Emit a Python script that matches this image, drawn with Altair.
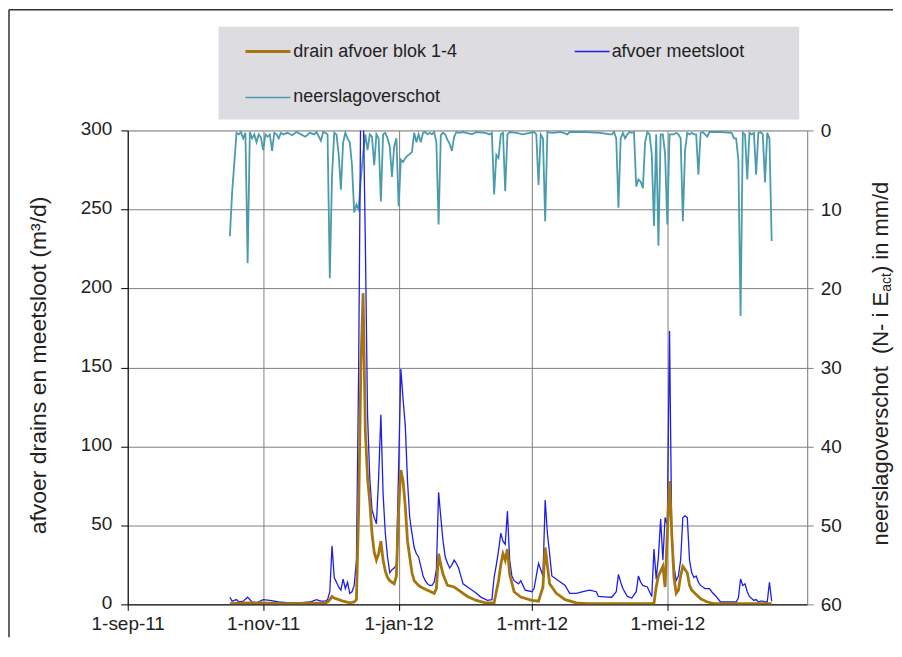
import altair as alt
import pandas as pd

# ---------------- data ----------------
sloot_dates = [
    "2011-10-17", "2011-10-18", "2011-10-20", "2011-10-21", "2011-10-23", "2011-10-25", "2011-10-27", "2011-10-29",
    "2011-11-01", "2011-11-04", "2011-11-08", "2011-11-13", "2011-11-17", "2011-11-22", "2011-11-25", "2011-11-27",
    "2011-11-29", "2011-11-30",
    "2011-12-01", "2011-12-02", "2011-12-03", "2011-12-05", "2011-12-06", "2011-12-07", "2011-12-08", "2011-12-09",
    "2011-12-10", "2011-12-11", "2011-12-12", "2011-12-13", "2011-12-14", "2011-12-15", "2011-12-16", "2011-12-17",
    "2011-12-18", "2011-12-19", "2011-12-20", "2011-12-21", "2011-12-22", "2011-12-23", "2011-12-24", "2011-12-25",
    "2011-12-26", "2011-12-27", "2011-12-28", "2011-12-29", "2011-12-30", "2011-12-31",
    "2012-01-01", "2012-01-02", "2012-01-03", "2012-01-04", "2012-01-05", "2012-01-06", "2012-01-07", "2012-01-08",
    "2012-01-09", "2012-01-10", "2012-01-11", "2012-01-12", "2012-01-13", "2012-01-14", "2012-01-15", "2012-01-16",
    "2012-01-17", "2012-01-18", "2012-01-19", "2012-01-20", "2012-01-21", "2012-01-22", "2012-01-23", "2012-01-24",
    "2012-01-25", "2012-01-26", "2012-01-27", "2012-01-28", "2012-01-29", "2012-01-30",
    "2012-02-02", "2012-02-05", "2012-02-07", "2012-02-10", "2012-02-12", "2012-02-13", "2012-02-14", "2012-02-15",
    "2012-02-16", "2012-02-17", "2012-02-18", "2012-02-19", "2012-02-20", "2012-02-21", "2012-02-22", "2012-02-24",
    "2012-02-25", "2012-02-27",
    "2012-03-01", "2012-03-02", "2012-03-04", "2012-03-06", "2012-03-07", "2012-03-08", "2012-03-09", "2012-03-10",
    "2012-03-13", "2012-03-16", "2012-03-18", "2012-03-21", "2012-03-24", "2012-03-27", "2012-03-30", "2012-03-31",
    "2012-04-04", "2012-04-06", "2012-04-08", "2012-04-09", "2012-04-10", "2012-04-11", "2012-04-13", "2012-04-15",
    "2012-04-17", "2012-04-18", "2012-04-19", "2012-04-20", "2012-04-22", "2012-04-24", "2012-04-25", "2012-04-26",
    "2012-04-27", "2012-04-28", "2012-04-29", "2012-04-30",
    "2012-05-01", "2012-05-02", "2012-05-03", "2012-05-04", "2012-05-05", "2012-05-06", "2012-05-07", "2012-05-08",
    "2012-05-09", "2012-05-10", "2012-05-11", "2012-05-12", "2012-05-13", "2012-05-14", "2012-05-15", "2012-05-16",
    "2012-05-18", "2012-05-20", "2012-05-21", "2012-05-23", "2012-05-25", "2012-05-29",
    "2012-06-01", "2012-06-02", "2012-06-03", "2012-06-04", "2012-06-05", "2012-06-06", "2012-06-07", "2012-06-09",
    "2012-06-10", "2012-06-11", "2012-06-12", "2012-06-13", "2012-06-14", "2012-06-15", "2012-06-16", "2012-06-17",
]
sloot_vals = [
    4.5, 2, 3, 1.5, 2, 4.5, 1.5, 1,
    3, 2.5, 1.5, 1, 1, 1.5, 3, 2,
    2, 3,
    8, 37, 17, 11, 9, 16, 10, 14,
    7, 8, 12, 28, 150, 330, 320, 230,
    120, 80, 60, 55, 51, 80, 120, 70,
    45, 30, 20, 22, 23, 25,
    87, 149, 130, 113, 78, 55, 45, 36,
    32, 30, 24, 18, 15, 13, 12, 12,
    14, 22, 71, 55, 40, 30, 26, 23,
    25, 28, 26, 23, 18, 13,
    10, 7, 4.6, 2.5, 3, 17, 25, 34,
    45, 40, 38, 59, 28, 18, 15, 13,
    15, 9,
    8, 10, 26, 18, 66, 45, 32, 18,
    15, 12, 7, 7, 8, 9, 8, 5,
    4.6, 4.5, 8, 19, 14, 10, 5, 4,
    8, 18, 14, 12, 11, 5, 35, 16,
    30, 54, 28, 55,
    50, 173, 45, 24, 15, 18, 28, 55,
    56, 55, 28, 20, 17, 18, 14, 12,
    10, 10, 8, 5, 1.5, 1.5,
    1.5, 4, 16, 12, 13, 8, 5, 2.5,
    3, 1.5, 2, 2, 1.5, 1.5, 14, 2,
]

drain_dates = [
    "2011-10-17", "2011-10-25", "2011-11-01", "2011-11-08", "2011-11-15", "2011-11-22", "2011-11-29", "2011-11-30",
    "2011-12-01", "2011-12-02", "2011-12-03", "2011-12-05", "2011-12-07", "2011-12-10", "2011-12-12", "2011-12-13",
    "2011-12-14", "2011-12-15", "2011-12-16", "2011-12-17", "2011-12-18", "2011-12-19", "2011-12-20", "2011-12-21",
    "2011-12-22", "2011-12-23", "2011-12-24", "2011-12-25", "2011-12-26", "2011-12-27", "2011-12-28", "2011-12-29",
    "2011-12-30", "2011-12-31",
    "2012-01-01", "2012-01-02", "2012-01-03", "2012-01-04", "2012-01-05", "2012-01-06", "2012-01-07", "2012-01-08",
    "2012-01-10", "2012-01-11", "2012-01-14", "2012-01-17", "2012-01-18", "2012-01-19", "2012-01-20", "2012-01-21",
    "2012-01-23", "2012-01-26", "2012-01-28",
    "2012-02-01", "2012-02-05", "2012-02-09", "2012-02-13", "2012-02-14", "2012-02-15", "2012-02-16", "2012-02-17",
    "2012-02-18", "2012-02-19", "2012-02-20", "2012-02-22", "2012-02-25",
    "2012-03-01", "2012-03-04", "2012-03-06", "2012-03-07", "2012-03-09", "2012-03-12", "2012-03-16", "2012-03-21",
    "2012-03-26",
    "2012-04-05", "2012-04-15", "2012-04-24", "2012-04-25", "2012-04-26", "2012-04-27", "2012-04-28", "2012-04-29",
    "2012-04-30",
    "2012-05-01", "2012-05-02", "2012-05-03", "2012-05-04", "2012-05-05", "2012-05-06", "2012-05-07", "2012-05-08",
    "2012-05-09", "2012-05-10", "2012-05-11", "2012-05-12", "2012-05-16", "2012-05-19", "2012-05-22",
    "2012-06-05", "2012-06-17",
]
drain_vals = [
    0.5, 1, 1, 0.5, 0.5, 0.8, 1, 1.5,
    3, 5, 4, 3, 2, 1, 1.5, 3,
    60, 150, 197, 110, 80, 65, 45, 33,
    28, 32, 40, 28, 21, 17, 15, 14,
    13, 18,
    60, 85, 78, 62, 40, 30, 20, 15,
    12, 11, 9, 7, 10, 32, 25, 19,
    12, 11, 9,
    5, 2.5, 1, 1, 8, 15, 25, 32,
    28, 35, 19, 8, 4.6,
    2.5, 2, 11, 36, 13, 7, 3, 1,
    0.5,
    0.5, 0.5, 0.5, 0.8, 11, 18, 21, 24,
    11,
    45, 78, 45, 17, 7, 9, 18, 24,
    22, 20, 12, 9, 3.5, 1.5, 0.5,
    0.5, 0.5,
]

neerslag_dates = [
    "2011-10-17", "2011-10-18", "2011-10-19", "2011-10-20", "2011-10-21", "2011-10-22", "2011-10-23", "2011-10-24",
    "2011-10-25", "2011-10-26", "2011-10-27", "2011-10-28", "2011-10-29", "2011-10-30", "2011-10-31",
    "2011-11-01", "2011-11-02", "2011-11-03", "2011-11-04", "2011-11-05", "2011-11-06", "2011-11-07", "2011-11-08",
    "2011-11-09", "2011-11-10", "2011-11-12", "2011-11-14", "2011-11-16", "2011-11-18", "2011-11-20", "2011-11-22",
    "2011-11-24", "2011-11-25", "2011-11-27", "2011-11-28", "2011-11-29", "2011-11-30",
    "2011-12-01", "2011-12-02", "2011-12-03", "2011-12-04", "2011-12-05", "2011-12-06", "2011-12-07", "2011-12-08",
    "2011-12-09", "2011-12-10", "2011-12-11", "2011-12-12", "2011-12-13", "2011-12-14", "2011-12-15", "2011-12-16",
    "2011-12-17", "2011-12-18", "2011-12-19", "2011-12-20", "2011-12-21", "2011-12-22", "2011-12-23", "2011-12-24",
    "2011-12-25", "2011-12-26", "2011-12-27", "2011-12-28", "2011-12-29", "2011-12-30", "2011-12-31",
    "2012-01-01", "2012-01-02", "2012-01-03", "2012-01-04", "2012-01-05", "2012-01-06", "2012-01-07", "2012-01-08",
    "2012-01-09", "2012-01-10", "2012-01-11", "2012-01-12", "2012-01-13", "2012-01-14", "2012-01-15", "2012-01-16",
    "2012-01-17", "2012-01-18", "2012-01-19", "2012-01-20", "2012-01-21", "2012-01-22", "2012-01-23", "2012-01-24",
    "2012-01-25", "2012-01-26", "2012-01-27", "2012-01-28", "2012-01-30",
    "2012-02-03", "2012-02-05", "2012-02-09", "2012-02-11", "2012-02-12", "2012-02-13", "2012-02-14", "2012-02-15",
    "2012-02-16", "2012-02-17", "2012-02-18", "2012-02-19", "2012-02-20", "2012-02-23", "2012-02-26", "2012-02-29",
    "2012-03-02", "2012-03-03", "2012-03-04", "2012-03-05", "2012-03-06", "2012-03-07", "2012-03-08", "2012-03-10",
    "2012-03-14", "2012-03-17", "2012-03-18", "2012-03-25",
    "2012-04-01", "2012-04-05", "2012-04-06", "2012-04-07", "2012-04-08", "2012-04-09", "2012-04-10", "2012-04-11",
    "2012-04-12", "2012-04-13", "2012-04-14", "2012-04-15", "2012-04-16", "2012-04-17", "2012-04-18", "2012-04-19",
    "2012-04-20", "2012-04-21", "2012-04-22", "2012-04-23", "2012-04-24", "2012-04-25", "2012-04-26", "2012-04-27",
    "2012-04-28", "2012-04-29", "2012-04-30",
    "2012-05-01", "2012-05-02", "2012-05-03", "2012-05-04", "2012-05-05", "2012-05-06", "2012-05-07", "2012-05-08",
    "2012-05-09", "2012-05-10", "2012-05-11", "2012-05-12", "2012-05-13", "2012-05-14", "2012-05-15", "2012-05-16",
    "2012-05-17", "2012-05-19", "2012-05-20", "2012-05-25", "2012-05-30", "2012-05-31",
    "2012-06-01", "2012-06-02", "2012-06-03", "2012-06-04", "2012-06-05", "2012-06-06", "2012-06-07", "2012-06-08",
    "2012-06-09", "2012-06-10", "2012-06-11", "2012-06-12", "2012-06-13", "2012-06-14", "2012-06-15", "2012-06-16",
    "2012-06-17",
]
neerslag_vals = [
    13.4, 7.9, 4.1, 0.3, 0.5, 0.2, 1, 0.3,
    16.8, 0.2, 1, 0.5, 1.5, 0.5, 0.9,
    2.5, 0.5, 0.8, 0.5, 2.6, 0.3, 0.5, 1,
    0.3, 0.5, 0.3, 0.6, 0.2, 0.5, 0.8, 0.3,
    0.5, 0.2, 1.3, 0.2, 0.3, 0.5,
    18.7, 5.8, 0.3, 0.5, 3, 7.5, 1.5, 0.3,
    1, 1.5, 4.4, 10.4, 9.4, 10, 6, 3,
    0.5, 2.5, 0.5, 0.8, 4.4, 0.5, 1, 9,
    0.5, 0.3, 1, 2, 5.9, 2, 1,
    9.6, 3.7, 4, 3.5, 3.2, 3, 2.7, 0.3,
    1.5, 0.5, 1.5, 0.3, 0.2, 0.5, 0.3, 0.5,
    0.2, 1.5, 11.9, 0.6, 0.3, 0.5, 1.2, 1.7,
    2.6, 0.8, 0.2, 0.3, 0.2,
    0.5, 0.2, 0.3, 0.5, 0.3, 8.1, 3.1, 3.5,
    0.5, 0.3, 7.7, 0.5, 0.2, 0.3, 0.5, 0.3,
    0.2, 0.5, 6.9, 0.5, 1, 11.5, 0.2, 0.3,
    0.2, 0.5, 0.2, 0.2,
    0.3, 0.5, 0.5, 0.2, 1, 9.8, 1, 0.3,
    1, 0.5, 0.2, 0.3, 0.2, 7.1, 6.2, 6.5,
    7.3, 1.5, 0.2, 0.5, 3, 12.1, 0.5, 14.6,
    0.5, 0.5, 3,
    11.9, 0.5, 0.5, 0.5, 0.3, 0.5, 1, 11.5,
    2.5, 0.3, 0.5, 0.3, 0.5, 0.5, 5.6, 0.3,
    0.2, 0.8, 0.2, 0.2, 0.3, 1,
    1, 3.7, 23.5, 0.3, 0.5, 6.2, 0.3, 0.5,
    0.3, 5.6, 0.3, 0.2, 0.5, 6.6, 0.3, 1,
    14,
]

x_domain = ["2011-09-01", "2012-07-03"]
tick_dates = ["2011-09-01", "2011-11-01", "2012-01-01", "2012-03-01", "2012-05-01"]
tick_labels = ["1-sep-11", "1-nov-11", "1-jan-12", "1-mrt-12", "1-mei-12"]
left_ticks = [0, 50, 100, 150, 200, 250, 300]
right_ticks = [0, 10, 20, 30, 40, 50, 60]
series_names = ["drain afvoer blok 1-4", "afvoer meetsloot", "neerslagoverschot"]
left_title = "afvoer drains en meetsloot (m³/d)"

# ---------------- styling ----------------
FONT = "Liberation Sans"
BROWN = "#A5760F"
BLUE = "#1E1EE8"
TEAL = "#4A9BAD"
GRID = "#7f7f7f"
TXT = "#222222"
W, H = 681, 475


def dt(s):
    y, m, d = (int(p) for p in s.split("-"))
    return alt.DateTime(year=y, month=m, date=d, utc=True)


label_expr = ""
for d, l in zip(tick_dates, tick_labels):
    label_expr += f"utcFormat(datum.value, '%Y-%m-%d') === '{d}' ? '{l}' : "
label_expr += "''"

x_axis = alt.Axis(
    values=[dt(d) for d in tick_dates], labelExpr=label_expr, title=None,
    grid=True, gridColor=GRID, gridWidth=1, domainColor="#000000", domainWidth=1,
    tickColor="#000000", tickSize=6, labelPadding=4, labelFlush=False, labelOverlap=False,
    labelFontSize=19, labelColor=TXT, labelFont=FONT,
)
x_scale = alt.Scale(type="utc", domain=[dt(x_domain[0]), dt(x_domain[1])])
X = alt.X("datum:T", scale=x_scale, axis=x_axis)

y_left_axis = alt.Axis(
    values=left_ticks, grid=True, gridColor=GRID, gridWidth=1, domainColor="#000000",
    tickColor="#000000", tickSize=7, labelPadding=9, labelOffset=-1.5, labelFontSize=19, labelColor=TXT,
    labelFont=FONT, title=left_title, titleFont=FONT, titleFontSize=23,
    titleFontWeight="normal", titleColor=TXT, titleAngle=270, titleX=-89, titleY=235,
    titleAlign="center", titleBaseline="middle",
)
y_left_scale = alt.Scale(domain=[0, 300], nice=False)

y_right_axis = alt.Axis(
    orient="right", values=right_ticks, grid=False, domainColor=GRID, tickColor=GRID,
    tickSize=6, labelPadding=7, labelFontSize=19, labelColor=TXT, labelFont=FONT, title=None,
)

df_drain = pd.DataFrame({"datum": drain_dates, "waarde": drain_vals})
df_sloot = pd.DataFrame({"datum": sloot_dates, "waarde": sloot_vals})
df_neer = pd.DataFrame({"datum": neerslag_dates, "mm": neerslag_vals})

teal = alt.Chart(df_neer).mark_line(color=TEAL, strokeWidth=1.8).encode(
    x=X, y=alt.Y("mm:Q", scale=alt.Scale(domain=[0, 60], reverse=True, nice=False), axis=y_right_axis)
)
sloot = alt.Chart(df_sloot).mark_line(color=BLUE, strokeWidth=1.3, clip=True).encode(
    x=X, y=alt.Y("waarde:Q", scale=y_left_scale, axis=y_left_axis)
)
drain = alt.Chart(df_drain).mark_line(color=BROWN, strokeWidth=2.8, clip=True).encode(
    x=X, y=alt.Y("waarde:Q", scale=y_left_scale, axis=y_left_axis)
)
discharge = alt.layer(sloot, drain)

one = pd.DataFrame({"k": [0]})

# outer frame (top and left edge)
frame_top = alt.Chart(one).mark_rule(color="#333333", strokeWidth=1.5).encode(
    x=alt.value(-119), x2=alt.value(767), y=alt.value(-121)
)
frame_left = alt.Chart(one).mark_rule(color="#333333", strokeWidth=1.5).encode(
    x=alt.value(-119), y=alt.value(-121), y2=alt.value(508)
)

# legend
legend_box = alt.Chart(one).mark_rect(color="#DDDCE0").encode(
    x=alt.value(91), x2=alt.value(673), y=alt.value(-104), y2=alt.value(-11)
)
leg_items = []
for (lx, ly, col, sw, name) in [
    (118, -79, BROWN, 3, series_names[0]),
    (448, -79, BLUE, 1.5, series_names[1]),
    (118, -33, TEAL, 1.6, series_names[2]),
]:
    leg_items.append(
        alt.Chart(one).mark_rule(color=col, strokeWidth=sw).encode(
            x=alt.value(lx), x2=alt.value(lx + 45 if lx < 300 else lx + 35), y=alt.value(ly)
        )
    )
    leg_items.append(
        alt.Chart(one).mark_text(align="left", baseline="middle", fontSize=18, font=FONT, color=TXT).encode(
            x=alt.value(lx + 48 if lx < 300 else lx + 37), y=alt.value(ly), text=alt.value(name)
        )
    )

# right axis title with subscript
rt1 = alt.Chart(one).mark_text(angle=270, align="left", baseline="middle", fontSize=22, font=FONT, color=TXT).encode(
    x=alt.value(755), y=alt.value(416), text=alt.value("neerslagoverschot\u00a0\u00a0(N-\u00a0i\u00a0E")
)
rt2 = alt.Chart(one).mark_text(angle=270, align="left", baseline="middle", fontSize=14, font=FONT, color=TXT).encode(
    x=alt.value(761), y=alt.value(161.7), text=alt.value("act")
)
rt3 = alt.Chart(one).mark_text(angle=270, align="left", baseline="middle", fontSize=22, font=FONT, color=TXT).encode(
    x=alt.value(755), y=alt.value(143), text=alt.value(")\u00a0in\u00a0mm/d")
)

chart = alt.layer(
    teal, discharge, legend_box, *leg_items, frame_top, frame_left, rt1, rt2, rt3
).resolve_scale(y="independent").properties(
    width=W, height=H, padding=0
).configure_view(
    fill="#DCDBDF", stroke="transparent"
).configure(background="white")

chart.save("out.html", embed_options={"renderer": "svg", "actions": False})
